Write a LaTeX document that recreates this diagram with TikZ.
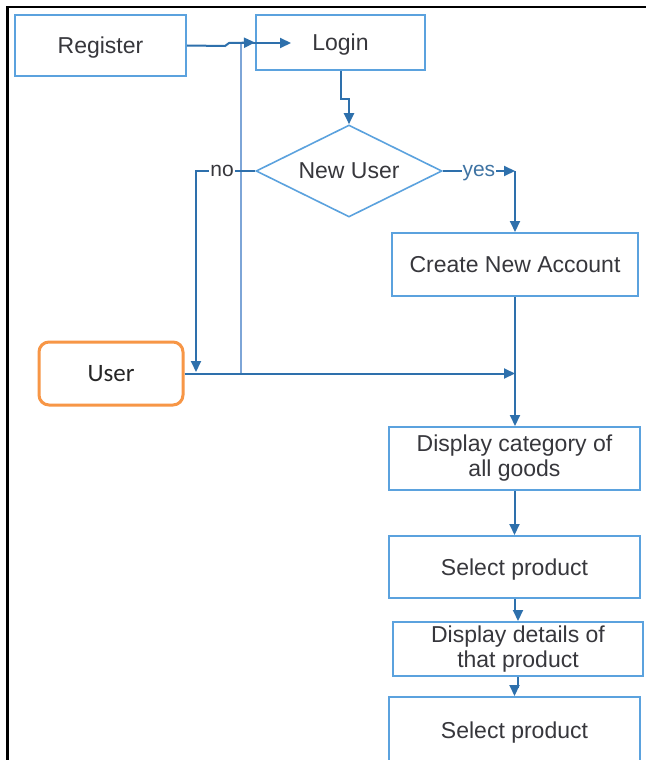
\documentclass[tikz,border=0pt]{standalone}
\usepackage{fontspec}
\setmainfont{Liberation Sans}
\newfontfamily\userfont{Carlito}
\usetikzlibrary{shapes.geometric,arrows.meta}
\definecolor{boxblue}{RGB}{91,162,222}
\definecolor{connblue}{RGB}{46,112,172}
\definecolor{thinblue}{RGB}{125,165,215}
\definecolor{userorange}{RGB}{247,150,70}
\definecolor{textgray}{RGB}{55,55,60}
\begin{document}
\begin{tikzpicture}[x=1pt,y=-1pt,
  box/.style={draw=boxblue, line width=2pt, inner sep=0pt, align=center, text=textgray,
    font=\fontsize{23}{25}\selectfont},
  onel/.style={text depth=0pt},
  dia/.style={diamond, draw=boxblue, line width=1.6pt, inner sep=0pt, aspect=2.02,
    minimum width=186pt, minimum height=92pt, text=textgray, text depth=0pt,
    font=\fontsize{23}{25}\selectfont},
  userbox/.style={draw=userorange, line width=3pt, rounded corners=10pt, inner sep=0pt,
    minimum width=144pt, minimum height=63pt, text=black!85, text depth=0pt,
    font=\userfont\fontsize{25}{27}\selectfont},
  conn/.style={draw=connblue, line width=2pt, -{Triangle[length=11pt,width=10pt]}},
  thinconn/.style={draw=thinblue, line width=1.2pt},
  lbl/.style={fill=white, inner sep=1pt, text depth=0pt, font=\fontsize{21}{23}\selectfont}]
\clip (0,0) rectangle (646,760);
\useasboundingbox (0,0) rectangle (646,760);
\fill[white] (0,0) rectangle (646,760);
% frame
\draw[black, line width=2.6pt] (7.5,760) -- (7.5,7) -- (646,7);
% nodes
\node[box, onel, minimum width=171pt, minimum height=61pt] (reg) at (100.5,45.5) {Register};
\node[box, onel, minimum width=169pt, minimum height=55pt] (login) at (340.5,42.5) {Login};
\node[dia] (nu) at (349,171) {New User};
\node[box, onel, minimum width=246pt, minimum height=63pt] (create) at (515,264.5) {Create New Account};
\node[userbox] (user) at (111,373.5) {User};
\node[box, minimum width=251pt, minimum height=63pt] (cat) at (514.5,458.5) {Display category of\\all goods};
\node[box, onel, minimum width=251pt, minimum height=62pt] (sel1) at (514.5,567) {Select product};
\node[box, minimum width=250pt, minimum height=54pt] (det) at (518,649) {Display details of\\that product};
\node[box, onel, minimum width=251pt, minimum height=66pt] (sel2) at (514.5,730) {Select product};
% helper coordinates
\coordinate (tv) at (241,43);
\coordinate (lg) at (291,43);
\coordinate (nd) at (196,372);
\coordinate (yc) at (create.north |- nu.east);
\coordinate (jn) at (create.south |- user.east);
% connectors
\draw[thinconn] (user.east) -| (tv);
\draw[conn] (tv) -- (lg);
\draw[conn] (reg.east) -- (225,46) -- (229,43) -- (login.west);
\draw[conn] (login.south) -- ++(0,28) -| (nu.north);
\draw[conn] (nu.west) -| (nd) node[lbl, pos=0.28, text=textgray] {no};
\draw[conn] (nu.east) -- (yc) node[lbl, pos=0.5, text=connblue!80!gray] {yes};
\draw[conn] (yc) -- (create.north);
\draw[conn] (user.east) -- (jn);
\draw[conn] (create.south) -- (create.south |- cat.north);
\draw[conn] (cat.south) -- (cat.south |- sel1.north);
\draw[conn] (sel1.south) -- ++(0,12) -| (det.north);
\draw[conn] (det.south) -- ++(0,10) -| (sel2.north);
\end{tikzpicture}
\end{document}
